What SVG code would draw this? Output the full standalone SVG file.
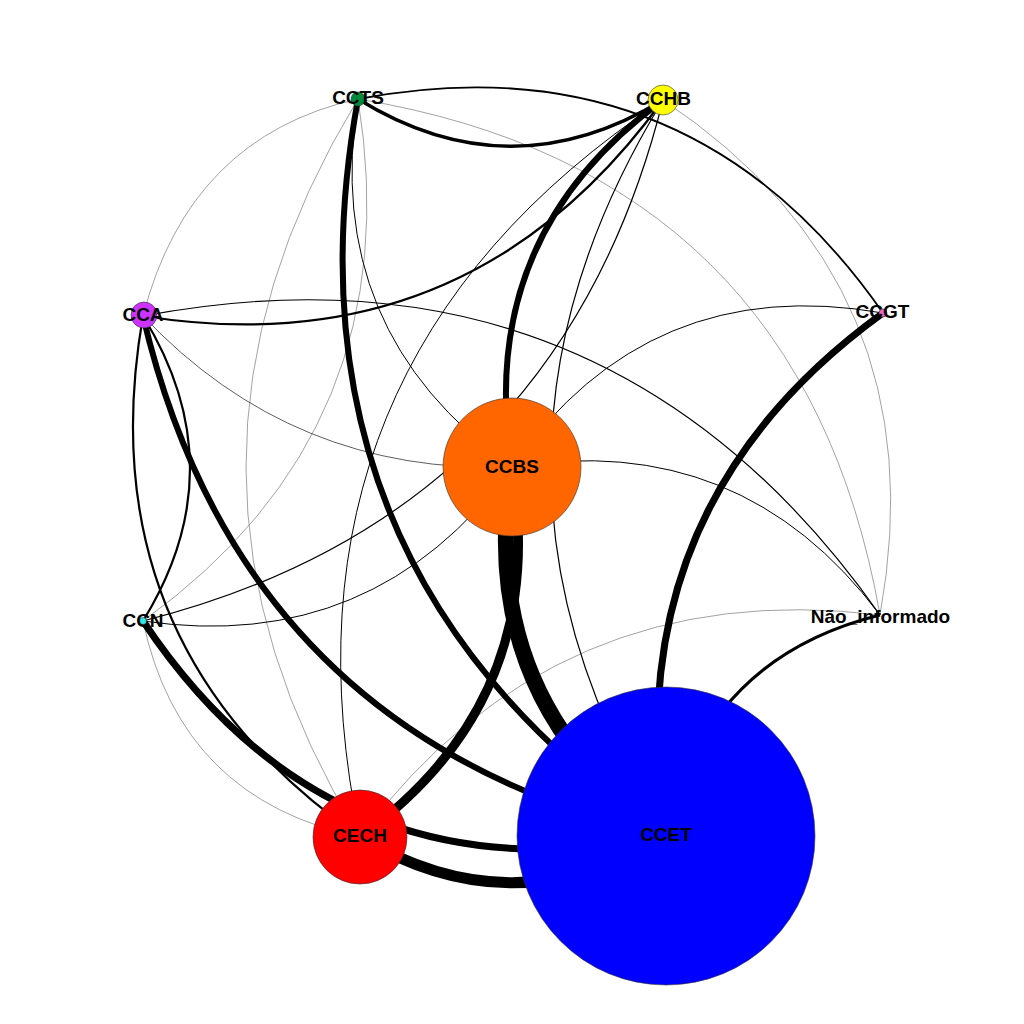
<svg xmlns="http://www.w3.org/2000/svg" width="1024" height="1024" viewBox="0 0 1024 1024">
<style>
.e{fill:none;stroke:#000;stroke-linecap:butt}
.g{fill:none;stroke:#8a8a8a;stroke-width:0.8}
.n{stroke:#333;stroke-width:0.6}
.t{font-family:"Liberation Sans",Arial,sans-serif;font-weight:bold;font-size:19px;text-anchor:middle;fill:#000}
</style>
<rect width="1024" height="1024" fill="#fff"/>
<g id="edges">
<path class="g" d="M358,99 Q189.5,136.5 143,316"/>
<path class="g" d="M358,99 Q133,468 360,837"/>
<path class="g" d="M358,99 Q411.5,428 143,621"/>
<path class="g" d="M358,99 Q802,172 880,615"/>
<path class="g" d="M663,100 Q940,285 880,615"/>
<path class="g" d="M143,621 Q180.9,799.9 360,837"/>
<path class="g" d="M360,837 Q555.5,575.1 880,615"/>
<path class="e" stroke-width="0.8" style="stroke:#333" d="M143,316 Q293.2,474.8 512,467"/>
<path class="e" stroke-width="1" d="M358,99 Q321,331 512,467"/>
<path class="e" stroke-width="1" d="M663,100 Q261.7,365.9 360,837"/>
<path class="e" stroke-width="1.2" d="M663,100 Q559,516 143,621"/>
<path class="e" stroke-width="1.2" d="M663,100 Q437.5,468 666,836"/>
<path class="e" stroke-width="1.2" d="M143,316 Q607.8,228.2 880,615"/>
<path class="e" stroke-width="1" d="M143,621 Q373.7,654.8 512,467"/>
<path class="e" stroke-width="1" d="M512,467 Q648.4,271.8 883,313"/>
<path class="e" stroke-width="1" d="M512,467 Q740.8,429.6 880,615"/>
<path class="e" stroke-width="1.8" d="M358,99 Q690,36 883,313"/>
<path class="e" stroke-width="2.2" d="M143,316 Q469,368 663,100"/>
<path class="e" stroke-width="2.2" d="M143,316 Q85.2,645.8 360,837"/>
<path class="e" stroke-width="2.2" d="M143,316 Q237,468.5 143,621"/>
<path class="e" stroke-width="3" d="M880,615 Q704.1,658.7 666,836"/>
<path class="e" stroke-width="3.5" d="M358,99 Q510,193 663,100"/>
<path class="e" stroke-width="6" d="M358,99 Q272,568 666,836"/>
<path class="e" stroke-width="6" d="M663,100 Q475,237 512,467"/>
<path class="e" stroke-width="6" d="M143,316 Q242.4,739 666,836"/>
<path class="e" stroke-width="7" d="M143,621 Q332.2,904.4 666,836"/>
<path class="e" stroke-width="7" d="M883,313 Q613.7,507.9 666,836"/>
<path class="e" stroke-width="9" d="M512,467 Q550.7,699.1 360,837"/>
<path class="e" stroke-width="11" d="M360,837 Q513,929 666,836"/>
<path class="e" stroke-width="16" d="M512,467 Q474.6,699.2 666,836"/>
</g>
<g id="node-CCTS"><circle class="n" cx="358" cy="99" r="7" fill="#008B3A"/><text class="t" x="358" y="104.3">CCTS</text></g>
<g id="node-CCHB"><circle class="n" cx="663" cy="100" r="15" fill="#FFFF00"/><text class="t" x="663.5" y="105.3">CCHB</text></g>
<g id="node-CCA"><circle class="n" cx="144" cy="315" r="13" fill="#CC33FF"/><text class="t" x="143" y="320.8">CCA</text></g>
<g id="node-CCGT"><circle class="n" cx="883" cy="313" r="4" fill="#EE66CC"/><text class="t" x="882.5" y="318.3">CCGT</text></g>
<g id="node-CCBS"><circle class="n" cx="512" cy="467" r="69" fill="#FF6600"/><text class="t" x="512" y="472.8">CCBS</text></g>
<g id="node-CCN"><circle class="n" cx="143" cy="621" r="3.5" fill="#33E6E6"/><text class="t" x="143" y="626.8">CCN</text></g>
<g id="node-Nao_informado"><text class="t" x="880.5" y="623.3">Não_informado</text></g>
<g id="node-CECH"><circle class="n" cx="360" cy="837" r="47" fill="#FF0000"/><text class="t" x="360" y="841.8">CECH</text></g>
<g id="node-CCET"><circle class="n" cx="666" cy="836" r="149" fill="#0000FF"/><text class="t" x="666" y="840.8">CCET</text></g>
</svg>
